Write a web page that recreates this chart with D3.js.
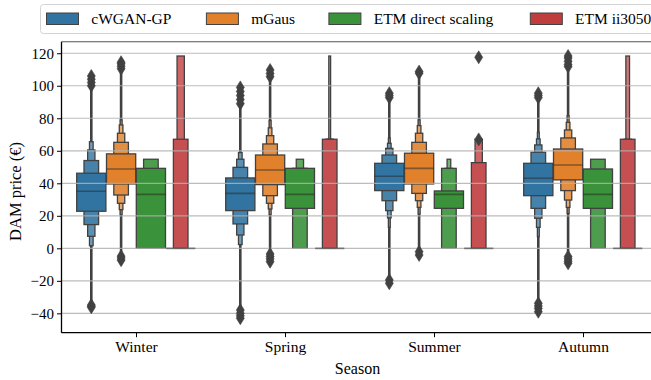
<!DOCTYPE html>
<html>
<head>
<meta charset="utf-8">
<script src="https://cdn.jsdelivr.net/npm/d3@7"></script>
<style>
  body { margin: 0; background: #fff; }
  svg { display: block; }
  text { font-family: "Liberation Serif", "Times New Roman", serif !important; fill: #000; }
</style>
</head>
<body>
<svg id="chart" width="651" height="380"></svg>
<script>
// ---- data -------------------------------------------------------------
const seasons = ["Winter", "Spring", "Summer", "Autumn"];
const models = ["cWGAN-GP", "mGaus", "ETM direct scaling", "ETM ii3050"];
const modelColors = ["#3274a1", "#e1812c", "#3a923a", "#c03d3e"];
const yTicks = [-40, -20, 0, 20, 40, 60, 80, 100, 120];

// Letter-value boxes per season, innermost (IQR) first: [low, high]
const cwganBoxes = [
  [[22.8, 46.2], [14.6, 54.0], [7.4, 60.5], [1.6, 65.6]],
  [[23.2, 43.3], [15.0, 49.8], [8.2, 54.8], [2.3, 58.9]],
  [[35.5, 52.3], [29.3, 57.4], [23.2, 61.5], [18.7, 64.6], [12.9, 67.9]],
  [[32.4, 52.3], [24.6, 59.1], [18.5, 63.6], [12.9, 67.3], [7.2, 71.4]]
];
const mgausBoxes = [
  [[39.6, 58.1], [32.8, 65.2], [27.7, 70.8], [23.8, 75.9], [20.7, 79.0]],
  [[39.2, 57.4], [32.4, 64.2], [27.7, 69.3], [24.2, 74.1], [20.7, 78.6]],
  [[39.6, 58.5], [33.8, 65.2], [29.3, 70.8], [25.2, 75.5], [21.1, 79.0]],
  [[42.1, 61.1], [35.5, 67.9], [29.7, 72.8], [25.2, 77.5], [21.5, 81.6]]
];
const etmDirectBoxes = [
  [[0, 49.2], [0, 54.8]],
  [[24.6, 49.2], [0, 49.2], [0, 54.8]],
  [[24.6, 35.3], [0, 49.2], [0, 49.2], [0, 54.8]],
  [[24.6, 48.8], [0, 54.8]]
];
const etmIiBoxes = [
  [[0, 0], [0, 67.1], [0, 118.3]],
  [[0, 0], [0, 67.1], [0, 67.1], [0, 67.1], [0, 118.3]],
  [[0, 0], [0, 52.7], [0, 67.1]],
  [[0, 0], [0, 67.1], [0, 67.1], [0, 118.3]]
];

const cwganMedians = [35.1, 33.8, 44.3, 43.1];
const mgausMedians = [48.8, 48.2, 49.2, 51.3];
const etmDirectMedians = [33.2, 33.2, 33.2, 33.2];
const etmIiMedians = [0, 0, 0, 0];

// Outlying observations beyond the last box
const cwganOutliers = [
  [-36.3, -35.6, -34.9, 100, 102, 104, 106],
  [-43, -41.5, -40, -38, 89, 91.5, 94, 96.5, 99],
  [-21.5, -19.5, 92.7, 94, 95.4],
  [-39, -37, -35.5, -33.8, 92.7, 94, 95.4]
];
const mgausOutliers = [
  [-7.3, -6, -4.8, 110.5, 112, 113.5, 114.5],
  [-8.2, -6.5, -5, -3.5, 105.6, 107.5, 109.7],
  [-4.1, -2.1, 107.7, 108.7],
  [-9.2, -8, -6.5, -5.1, 111.8, 113, 115, 117, 118.3]
];
const etmDirectOutliers = [[], [], [], []];
const etmIiOutliers = [[], [], [67, 117.5], []];

// Dense outlier runs that merge into a continuous stroke: [low, high]
const cwganRuns = [[-36.3, 106], [-43, 99], [-21.5, 95.4], [-39, 95.4]];
const mgausRuns = [[-7.3, 114.5], [-8.2, 109.7], [-4.1, 108.7], [-9.2, 118.3]];
const etmDirectRuns = [null, null, null, null];
const etmIiRuns = [null, null, null, null];

const allBoxes = [cwganBoxes, mgausBoxes, etmDirectBoxes, etmIiBoxes];
const allMedians = [cwganMedians, mgausMedians, etmDirectMedians, etmIiMedians];
const allOutliers = [cwganOutliers, mgausOutliers, etmDirectOutliers, etmIiOutliers];
const allRuns = [cwganRuns, mgausRuns, etmDirectRuns, etmIiRuns];

// ---- layout -----------------------------------------------------------
const svg = d3.select("#chart");
const plot = { left: 61.5, right: 657.5, top: 41.7, bottom: 332.7 };
const edgeGray = "#414141";
const serif = '"Liberation Serif", "Times New Roman", serif';

const x = d3.scaleLinear().domain([-0.5, seasons.length - 0.5]).range([plot.left, plot.right]);
const y = d3.scaleLinear().domain([-51.9, 127.1]).range([plot.bottom, plot.top]);
const hueOffset = d3.scalePoint().domain(models).range([-0.3, 0.3]);
const boxWidth = 0.196; // in category units

svg.append("defs").append("clipPath").attr("id", "plotClip")
  .append("rect").attr("x", plot.left).attr("y", plot.top)
  .attr("width", plot.right - plot.left).attr("height", plot.bottom - plot.top);

const gPlot = svg.append("g").attr("clip-path", "url(#plotClip)");

const lighten = (c, t) => d3.interpolateRgb(c, "#ffffff")(t);

// outlier runs (beneath the boxes)
const gRuns = gPlot.append("g");
models.forEach((m, mi) => {
  seasons.forEach((s, si) => {
    const run = allRuns[mi][si];
    if (!run) return;
    const cx = x(si + hueOffset(m));
    gRuns.append("line")
      .attr("x1", cx).attr("x2", cx)
      .attr("y1", y(run[0])).attr("y2", y(run[1]))
      .attr("stroke", edgeGray).attr("stroke-width", 2.6);
  });
});

// letter-value boxes, outermost (narrowest) drawn first
const gBoxes = gPlot.append("g");
models.forEach((m, mi) => {
  seasons.forEach((s, si) => {
    const boxes = allBoxes[mi][si];
    const cx = x(si + hueOffset(m));
    const unit = x(1) - x(0);
    for (let i = boxes.length - 1; i >= 0; i--) {
      const w = boxWidth * unit * Math.pow(0.5, i);
      const [lo, hi] = boxes[i];
      gBoxes.append("rect")
        .attr("x", cx - w / 2)
        .attr("width", w)
        .attr("y", y(hi))
        .attr("height", Math.max(0, y(lo) - y(hi)))
        .attr("fill", lighten(modelColors[mi], 0.1 * i))
        .attr("stroke", edgeGray)
        .attr("stroke-width", 1.3);
    }
  });
});

// horizontal grid
const gGrid = gPlot.append("g");
yTicks.forEach(t => {
  gGrid.append("line")
    .attr("x1", plot.left).attr("x2", plot.right)
    .attr("y1", y(t)).attr("y2", y(t))
    .attr("stroke", "#b0b0b0").attr("stroke-opacity", 0.85).attr("stroke-width", 1.2);
});

// medians
const gMed = gPlot.append("g");
models.forEach((m, mi) => {
  seasons.forEach((s, si) => {
    const cx = x(si + hueOffset(m));
    const w = boxWidth * (x(1) - x(0));
    const my = y(allMedians[mi][si]);
    gMed.append("line")
      .attr("x1", cx - w / 2).attr("x2", cx + w / 2)
      .attr("y1", my).attr("y2", my)
      .attr("stroke", "#262626").attr("stroke-opacity", 0.5).attr("stroke-width", 1.6);
  });
});

// outlier diamonds
const gOut = gPlot.append("g");
const diamond = "M0,-6.5L4,0L0,6.5L-4,0Z";
models.forEach((m, mi) => {
  seasons.forEach((s, si) => {
    const cx = x(si + hueOffset(m));
    allOutliers[mi][si].forEach(v => {
      gOut.append("path")
        .attr("d", diamond)
        .attr("transform", `translate(${cx},${y(v)})`)
        .attr("fill", edgeGray).attr("stroke", edgeGray).attr("stroke-width", 0.6);
    });
  });
});

// ---- axes -------------------------------------------------------------
const yAxis = d3.axisLeft(y).tickValues(yTicks).tickSize(4.5).tickPadding(3)
  .tickFormat(d => d < 0 ? "\u2212" + Math.abs(d) : String(d));
const gy = svg.append("g").attr("transform", `translate(${plot.left},0)`).call(yAxis)
  .attr("font-family", serif);
gy.select(".domain").remove();
gy.selectAll(".tick line").attr("stroke", "#000").attr("stroke-width", 1);
gy.selectAll(".tick text").attr("font-size", 15).style("font-family", serif);

const xAxis = d3.axisBottom(x).tickValues(d3.range(seasons.length))
  .tickFormat(i => seasons[i]).tickSize(4.5).tickPadding(4);
const gx = svg.append("g").attr("transform", `translate(0,${plot.bottom})`).call(xAxis)
  .attr("font-family", serif);
gx.select(".domain").remove();
gx.selectAll(".tick line").attr("stroke", "#000").attr("stroke-width", 1);
gx.selectAll(".tick text").attr("font-size", 15.5).style("font-family", serif);

// spines
svg.append("line").attr("x1", plot.left).attr("x2", plot.left)
  .attr("y1", plot.top).attr("y2", plot.bottom).attr("stroke", "#000").attr("stroke-width", 1.3);
svg.append("line").attr("x1", plot.left).attr("x2", plot.right)
  .attr("y1", plot.bottom).attr("y2", plot.bottom).attr("stroke", "#000").attr("stroke-width", 1.3);
svg.append("line").attr("x1", plot.left).attr("x2", plot.right)
  .attr("y1", plot.top).attr("y2", plot.top).attr("stroke", "#555").attr("stroke-width", 1.1);

// axis titles
svg.append("text").attr("x", (plot.left + x(3.5)) / 2 - 2).attr("y", 374)
  .attr("text-anchor", "middle").attr("font-size", 16).text("Season");
svg.append("text")
  .attr("transform", `translate(21,${y(35)}) rotate(-90)`)
  .attr("text-anchor", "middle").attr("font-size", 16.5).text("DAM price (\u20ac)");

// ---- legend -----------------------------------------------------------
const gLeg = svg.append("g");
gLeg.append("rect").attr("x", 40.5).attr("y", 4.5).attr("width", 640).attr("height", 29)
  .attr("rx", 3).attr("fill", "#fff").attr("fill-opacity", 0.8)
  .attr("stroke", "#d3d3d3").attr("stroke-width", 1);
const legendX = [46.5, 206.4, 328.9, 530.3];
models.forEach((m, mi) => {
  const lx = legendX[mi];
  gLeg.append("rect").attr("x", lx).attr("y", 13).attr("width", 32).attr("height", 11.5)
    .attr("fill", modelColors[mi]).attr("stroke", edgeGray).attr("stroke-width", 1);
  gLeg.append("text").attr("x", lx + 44.8).attr("y", 24)
    .attr("font-size", 15.5).text(m);
});
</script>
</body>
</html>
